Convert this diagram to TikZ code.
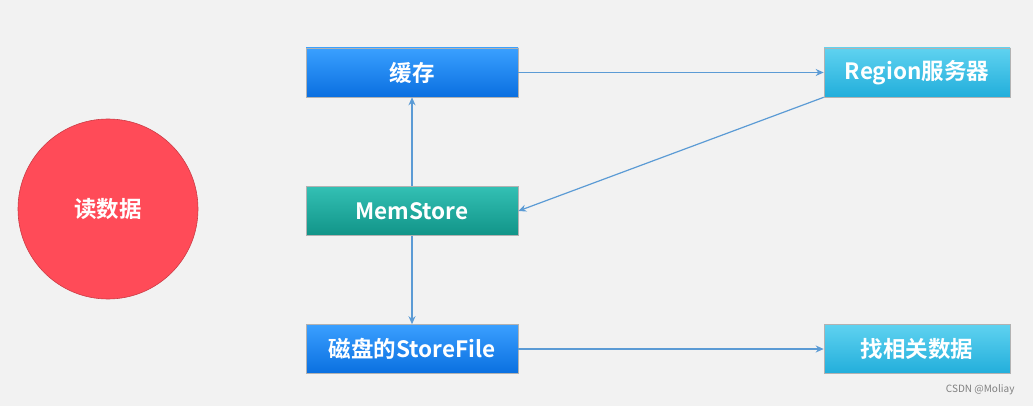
\documentclass[tikz,border=0pt]{standalone}
\usepackage{fontspec}
\setmainfont{Noto Sans CJK SC}[BoldFont={Noto Sans CJK SC Bold}]
\usetikzlibrary{arrows.meta}
\definecolor{bg}{HTML}{F2F2F2}
\definecolor{bluetop}{HTML}{3AA0FF}
\definecolor{bluebot}{HTML}{0A6FE0}
\definecolor{tealtop}{HTML}{33C0B4}
\definecolor{tealbot}{HTML}{119488}
\definecolor{cyantop}{HTML}{5FD2F0}
\definecolor{cyanbot}{HTML}{22AEDB}
\definecolor{redc}{HTML}{FF4B58}
\definecolor{arr}{HTML}{5B9BD5}
\tikzset{x=1pt,y=-1pt,
 box/.style={minimum width=212pt,minimum height=49pt,inner sep=0pt,font=\bfseries\fontsize{22.5}{22.5}\selectfont,text=white,draw=white!70!black,line width=0.6pt},
 bluebox/.style={box,top color=bluetop,bottom color=bluebot},
 tealbox/.style={box,top color=tealtop,bottom color=tealbot},
 cyanbox/.style={box,minimum width=186pt,top color=cyantop,bottom color=cyanbot},
 link/.style={draw=arr,line width=1.2pt,-{Stealth[length=8pt,width=7pt]}}}
\begin{document}
\begin{tikzpicture}
\fill[bg] (0,0) rectangle (1033,406);
\useasboundingbox (0,0) rectangle (1033,406);
\node[circle,minimum size=180pt,fill=redc,draw=redc!80!black,line width=0.6pt,text=white,font=\bfseries\fontsize{22.5}{22.5}\selectfont] (read) at (108,209) {读数据};
\node[bluebox] (cache) at (412,72.5) {缓存};
\node[tealbox] (mem) at (412,211) {MemStore};
\node[bluebox] (disk) at (412,349) {磁盘的StoreFile};
\node[cyanbox] (region) at (917,72.5) {Region服务器};
\node[cyanbox] (find) at (917,349) {找相关数据};
\draw[link] (cache) -- (region);
\draw[link] (region.south west) -- (mem.east);
\draw[link] (mem) -- (cache);
\draw[link] (mem) -- (disk);
\draw[link] (disk) -- (find);
\node[font=\fontsize{10}{10}\selectfont,text=gray,anchor=east] (wm) at (1018,390) {CSDN @Moliay};
\end{tikzpicture}
\end{document}
